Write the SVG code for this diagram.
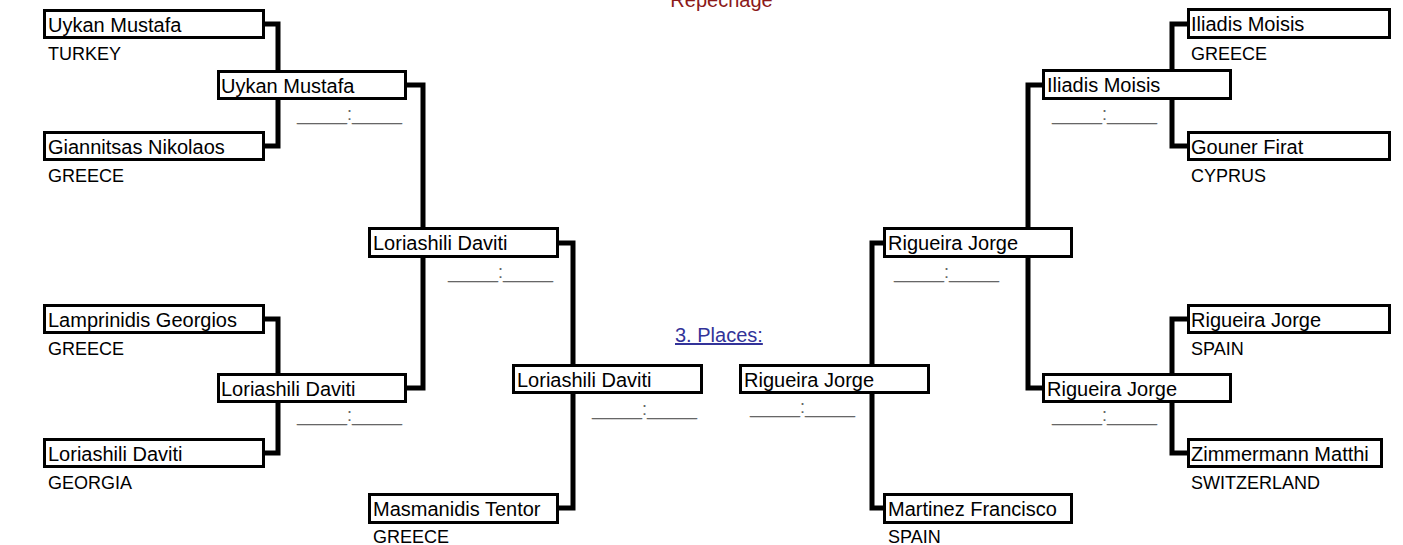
<svg xmlns="http://www.w3.org/2000/svg" width="1403" height="545" viewBox="0 0 1403 545">
<style>
.box{fill:#fff;stroke:#000;stroke-width:3}
.name{font-family:"Liberation Sans",Arial,sans-serif;font-size:20px;fill:#000}
.cty{font-family:"Liberation Sans",Arial,sans-serif;font-size:18px;fill:#000}
.score{font-family:"Liberation Sans",Arial,sans-serif;font-size:18px;fill:#666}
.con{fill:none;stroke:#000;stroke-width:5;stroke-linejoin:miter}
.title{font-family:"Liberation Sans",Arial,sans-serif;font-size:20px}
</style>
<rect width="1403" height="545" fill="#fff"/>
<text class="title" x="721.5" y="7" text-anchor="middle" fill="#8b1a1a">Repechage</text>
<text class="title" x="675" y="342" fill="#333399" text-decoration="underline">3. Places:</text>
<g id="connectors">
<path class="con" d="M265,24 H278 V146 H265"/>
<path class="con" d="M265,319 H278 V453 H265"/>
<path class="con" d="M407,85 H423 V388 H407"/>
<path class="con" d="M559,243 H573 V508 H559"/>
<path class="con" d="M1187,24 H1172 V146 H1187"/>
<path class="con" d="M1187,319 H1172 V453 H1187"/>
<path class="con" d="M1042,85 H1028 V388 H1042"/>
<path class="con" d="M883,243 H872 V508 H883"/>
</g>
<g id="a1"><rect class="box" x="44.5" y="10.5" width="219" height="27"/><text class="name" x="48" y="31.5">Uykan Mustafa</text><text class="cty" x="48" y="60">TURKEY</text></g>
<g id="a2"><rect class="box" x="44.5" y="132.5" width="219" height="27"/><text class="name" x="48" y="153.5">Giannitsas Nikolaos</text><text class="cty" x="48" y="182">GREECE</text></g>
<g id="a3"><rect class="box" x="44.5" y="305.5" width="219" height="27"/><text class="name" x="48" y="326.5">Lamprinidis Georgios</text><text class="cty" x="48" y="355">GREECE</text></g>
<g id="a4"><rect class="box" x="44.5" y="439.5" width="219" height="27"/><text class="name" x="48" y="460.5">Loriashili Daviti</text><text class="cty" x="48" y="489">GEORGIA</text></g>
<g id="b1"><rect class="box" x="218.5" y="71.5" width="187" height="27"/><text class="name" x="221" y="92.5">Uykan Mustafa</text><text class="score" x="297" y="120">_____:_____</text></g>
<g id="b2"><rect class="box" x="218.5" y="374.5" width="187" height="27"/><text class="name" x="221" y="395.5">Loriashili Daviti</text><text class="score" x="297" y="421">_____:_____</text></g>
<g id="c1"><rect class="box" x="369.5" y="228.5" width="188" height="28"/><text class="name" x="373" y="250">Loriashili Daviti</text><text class="score" x="448" y="278">_____:_____</text></g>
<g id="c2"><rect class="box" x="369.5" y="494.5" width="188" height="28"/><text class="name" x="373" y="516">Masmanidis Tentor</text><text class="cty" x="373" y="543">GREECE</text></g>
<g id="d1"><rect class="box" x="513.5" y="365.5" width="188" height="27"/><text class="name" x="517" y="386.5">Loriashili Daviti</text><text class="score" x="592" y="415">_____:_____</text></g>
<g id="e1"><rect class="box" x="740.5" y="365.5" width="188" height="27"/><text class="name" x="744" y="386.5">Rigueira Jorge</text><text class="score" x="750" y="413">_____:_____</text></g>
<g id="f1"><rect class="box" x="884.5" y="228.5" width="187" height="28"/><text class="name" x="888" y="250">Rigueira Jorge</text><text class="score" x="894" y="278">_____:_____</text></g>
<g id="f2"><rect class="box" x="884.5" y="494.5" width="187" height="28"/><text class="name" x="888" y="516">Martinez Francisco</text><text class="cty" x="888" y="543">SPAIN</text></g>
<g id="g1"><rect class="box" x="1043.5" y="70.5" width="187" height="28"/><text class="name" x="1047" y="92">Iliadis Moisis</text><text class="score" x="1052" y="120">_____:_____</text></g>
<g id="g2"><rect class="box" x="1043.5" y="374.5" width="187" height="27"/><text class="name" x="1047" y="395.5">Rigueira Jorge</text><text class="score" x="1052" y="421">_____:_____</text></g>
<g id="h1"><rect class="box" x="1188.5" y="9.5" width="201" height="28"/><text class="name" x="1191" y="31">Iliadis Moisis</text><text class="cty" x="1191" y="60">GREECE</text></g>
<g id="h2"><rect class="box" x="1188.5" y="132.5" width="201" height="27"/><text class="name" x="1191" y="153.5">Gouner Firat</text><text class="cty" x="1191" y="182">CYPRUS</text></g>
<g id="h3"><rect class="box" x="1188.5" y="305.5" width="201" height="27"/><text class="name" x="1191" y="326.5">Rigueira Jorge</text><text class="cty" x="1191" y="355">SPAIN</text></g>
<g id="h4"><rect class="box" x="1188.5" y="439.5" width="193" height="27"/><text class="name" x="1191" y="460.5">Zimmermann Matthi</text><text class="cty" x="1191" y="489">SWITZERLAND</text></g>
</svg>
